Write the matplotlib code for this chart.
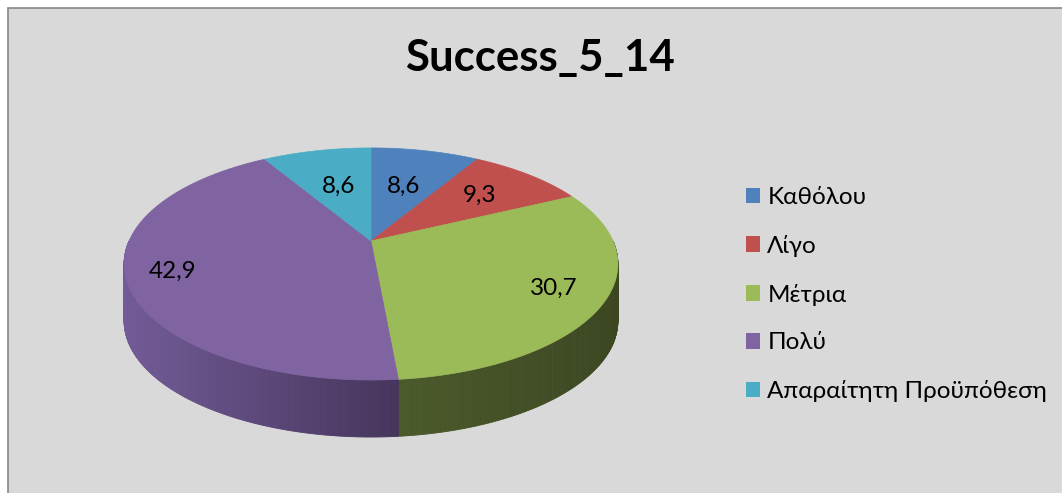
import numpy as np
import matplotlib
matplotlib.use("Agg")
import matplotlib.pyplot as plt
from matplotlib.patches import Polygon, Rectangle, Patch
from matplotlib.colors import to_rgb

# ---- data -------------------------------------------------------------
title = "Success_5_14"
categories = ["Καθόλου", "Λίγο", "Μέτρια", "Πολύ", "Απαραίτητη Προϋπόθεση"]
values = [8.6, 9.3, 30.7, 42.9, 8.6]
value_labels = ["8,6", "9,3", "30,7", "42,9", "8,6"]

# ---- style ------------------------------------------------------------
top_colors = ["#4F81BD", "#C0504D", "#9BBB59", "#8064A2", "#4BACC6"]
# side gradient (left colour, right colour) for each slice
side_colors = [("#3c6291", "#2c4a70"), ("#923c3a", "#6e2c2a"),
               ("#4b5a2b", "#3c4722"), ("#725b97", "#45355b"),
               ("#378496", "#285f6d")]
label_radius = [0.56, 0.66, 0.80, 0.82, 0.56]
FONT = "Lato"

W, H = 1062, 493
fig = plt.figure(figsize=(W / 100, H / 100), dpi=100)
fig.patch.set_facecolor("white")
ax = fig.add_axes([0, 0, 1, 1])
ax.set_xlim(0, W)
ax.set_ylim(H, 0)
ax.axis("off")

# chart area
ax.add_patch(Rectangle((7.5, 7.5), W + 10, H + 10, facecolor="#d9d9d9",
                       edgecolor="#878787", lw=1.2, zorder=0))

# ---- projected pie geometry -----------------------------------------
CX, CY = 371.0, 241.0      # pie centre on screen
B, A = 242.0, 111.5        # horizontal / vertical radii
P = 0.198                  # perspective strength
DEPTH = 57.0               # thickness of the disc


def proj(theta_deg, r=1.0, z=0.0):
    t = np.radians(theta_deg)
    u = r * np.sin(t)
    v = r * np.cos(t)
    d = 1 + P * v
    return CX + B * u / d, CY - A * v / d + z


vals = np.asarray(values, dtype=float)
frac = vals / vals.sum()
edges = np.concatenate([[0.0], np.cumsum(frac)]) * 360.0

# side walls (front half only, 90..270 degrees clockwise from top)
for i in range(len(vals)):
    a0, a1 = max(edges[i], 90.0), min(edges[i + 1], 270.0)
    if a1 <= a0:
        continue
    n = max(int((a1 - a0) * 2), 2)
    ts = np.linspace(a0, a1, n + 1)
    xs_all = [proj(t)[0] for t in ts]
    xmin, xmax = min(xs_all), max(xs_all)
    c_l = np.array(to_rgb(side_colors[i][0]))
    c_r = np.array(to_rgb(side_colors[i][1]))
    for k in range(n):
        t0, t1 = ts[k], ts[k + 1]
        xa, ya = proj(t0)
        xb, yb = proj(t1)
        pts = [(xa, ya), (xb, yb), (xb, yb + DEPTH), (xa, ya + DEPTH)]
        xm = 0.5 * (xa + xb)
        f = (xm - xmin) / (xmax - xmin) if xmax > xmin else 0.5
        col = c_l * (1 - f) + c_r * f
        ax.add_patch(Polygon(pts, closed=True, facecolor=col,
                             edgecolor=col, lw=0.6, zorder=2))

# top faces
for i in range(len(vals)):
    ts = np.linspace(edges[i], edges[i + 1], max(int((edges[i + 1] - edges[i]) * 2), 4))
    pts = [(CX, CY)] + [proj(t) for t in ts]
    ax.add_patch(Polygon(pts, closed=True, facecolor=top_colors[i],
                         edgecolor=top_colors[i], lw=0.5, zorder=3))

# value labels
for i in range(len(vals)):
    mid = 0.5 * (edges[i] + edges[i + 1])
    x, y = proj(mid, label_radius[i])
    ax.text(x, y, value_labels[i], ha="center", va="center",
            fontsize=17.5, family=FONT, color="black", zorder=5)

# title
ax.text(540, 58, title, ha="center", va="center", fontsize=31.5,
        fontweight="bold", family=FONT, color="black", zorder=5)

# legend
handles = [Patch(facecolor=c, edgecolor="none") for c in top_colors]
leg = ax.legend(handles, categories, loc="center left",
                bbox_to_anchor=(746 / W, 1 - 294.5 / H),
                bbox_transform=fig.transFigure, frameon=False,
                prop={"family": FONT, "size": 17.5},
                handlelength=0.58, handleheight=0.62, handletextpad=0.3,
                labelspacing=1.1, borderpad=0, borderaxespad=0)

fig.savefig("out.png", dpi=100, facecolor=fig.get_facecolor())
